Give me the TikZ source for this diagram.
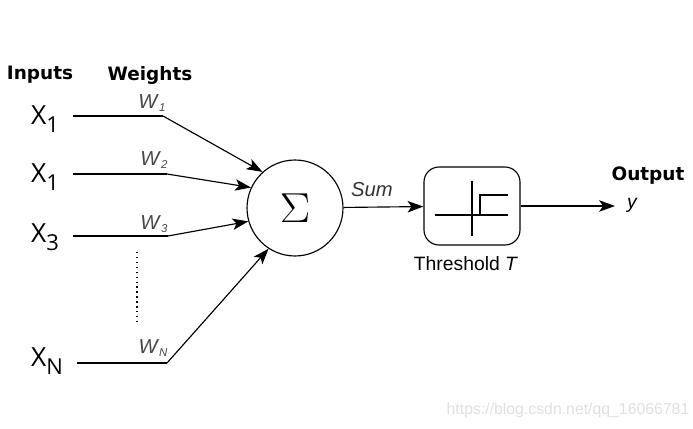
\documentclass[tikz,border=0pt]{standalone}
\usepackage{fontspec}
\setmainfont{Liberation Sans}
\newfontfamily\dejavu{DejaVu Sans}
\newfontfamily\opensans{Open Sans}
\usetikzlibrary{arrows.meta}

\newcommand{\inp}[2]{#1\raisebox{-4.6pt}{\fontsize{12.5}{13}\selectfont #2}}
\newcommand{\wgt}[1]{\textit{W}\raisebox{-0.3ex}{\fontsize{6.5}{7}\selectfont\textit{#1}}}

\begin{document}
\begin{tikzpicture}[x=0.02cm,y=-0.02cm,line width=0.65pt]
\useasboundingbox (0,0) rectangle (693,429);
\tikzset{head/.style={font=\dejavu\bfseries\fontsize{10.5}{12}\selectfont},
         xin/.style={font=\opensans\fontsize{15}{17}\selectfont},
         wlab/.style={font=\fontsize{11.5}{13}\selectfont,text=black!72},
         arr/.style={-{Stealth[length=9pt,width=6.5pt,inset=2.2pt]}}}
\node[head] (inputs) at (40,75) {Inputs};
\node[head] (weights) at (150,75) {Weights};
\node[xin] (x1) at (45,119) {\inp{X}{1}};
\node[xin] (x2) at (45,177) {\inp{X}{1}};
\node[xin] (x3) at (45,237) {\inp{X}{3}};
\node[xin] (xn) at (47,361) {\inp{X}{N}};
\node[wlab] (w1) at (152,103) {\wgt{1}};
\node[wlab] (w2) at (154,160) {\wgt{2}};
\node[wlab] (w3) at (154,224) {\wgt{3}};
\node[wlab] (wn) at (153,348) {\wgt{N}};
\coordinate (s1) at (73,116);
\coordinate (s2) at (73,174);
\coordinate (s3) at (73,236);
\coordinate (sn) at (77,363);
\coordinate (b1) at (163,116);
\coordinate (b2) at (167,174);
\coordinate (b3) at (168,236);
\coordinate (bn) at (167,363);
\node[draw=black,circle,minimum size=1.92cm,inner sep=0pt] (sum) at (295,208) {\scalebox{1.25}[1.15]{\huge$\Sigma$}};
\node[draw=black,rounded corners=0.3cm,minimum width=1.92cm,minimum height=1.56cm] (thr) at (472,206) {};
\node[font=\fontsize{11}{13}\selectfont] (thrlab) at (466,264) {Threshold \textit{T}};
\node[font=\fontsize{11.5}{13}\selectfont\itshape,text=black!80] (sumlab) at (372,190) {Sum};
\node[head] (outlab) at (648,176) {Output};
\node[font=\fontsize{11}{13}\selectfont\itshape] (y) at (632,205) {y};
\coordinate (yend) at (615,206);
\draw (s1) -- (b1);
\draw (s2) -- (b2);
\draw (s3) -- (b3);
\draw (sn) -- (bn);
\draw [arr] (b1) -- (sum.132);
\draw [arr] (b2) -- (sum.155);
\draw [arr] (b3) -- (sum.196);
\draw [arr] (bn) -- (sum.237);
\draw [dotted,line width=0.8pt] (137,252) -- (137,322);
\draw [arr] (sum) -- (thr);
\draw [arr] (thr) -- (yend);
% step inside the box
\draw (435,215) -- (508,215);
\draw (472,181) -- (472,236);
\draw [line width=1.2pt] (435,215) -- (480,215) -- (480,195) -- (508,195);
\node[font=\fontsize{9}{11}\selectfont,text=black!12] (mark) at (568,410) {https://blog.csdn.net/qq\_16066781};
\end{tikzpicture}
\end{document}
